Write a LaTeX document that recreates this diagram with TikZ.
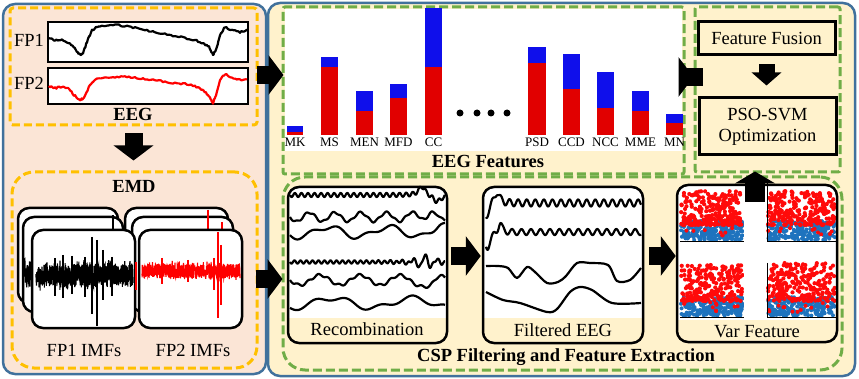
\documentclass[tikz,border=0pt]{standalone}
\usepackage{fontspec}
\setmainfont{Liberation Serif}
\usetikzlibrary{arrows.meta}
\definecolor{peach}{HTML}{FBE5D6}
\definecolor{cream}{HTML}{FFF2CC}
\definecolor{panelblue}{HTML}{41719C}
\definecolor{gold}{HTML}{FFC000}
\definecolor{leaf}{HTML}{70AD47}
\definecolor{barred}{RGB}{225,0,0}
\definecolor{barblue}{RGB}{15,15,235}
\definecolor{dotred}{RGB}{255,10,10}
\definecolor{dotblue}{RGB}{30,115,190}
\newcommand\scatterpanel[4]{%
  \foreach \i in {1,...,230}{%
    \pgfmathsetmacro\px{#1+(#2-#1)*rnd}%
    \pgfmathsetmacro\py{#4-2-19*rnd}%
    \fill[dotblue] (\px,\py) circle (2);}
  \foreach \i in {1,...,240}{%
    \pgfmathsetmacro\px{#1+(#2-#1)*rnd}%
    \pgfmathsetmacro\py{#4-17-(#4-#3-18)*(rnd)^1.4}%
    \fill[dotred] (\px,\py) circle (2.1);}
  \foreach \i in {1,...,12}{%
    \pgfmathsetmacro\px{#1+(#2-#1)*rnd}%
    \pgfmathsetmacro\py{#4-6-12*rnd}%
    \fill[dotred] (\px,\py) circle (2);}
}
\begin{document}
\begin{tikzpicture}[x=1pt,y=-1pt,
  panel/.style={draw=panelblue, line width=2.5pt, rounded corners=12pt, inner sep=0pt},
  golddash/.style={draw=gold, line width=3pt, dash pattern=on 8pt off 4pt, inner sep=0pt},
  leafdash/.style={draw=leaf, line width=3pt, dash pattern=on 9pt off 4pt, inner sep=0pt},
  sigbox/.style={draw=black, line width=2pt, inner sep=0pt},
  card/.style={draw=black, line width=2.5pt, rounded corners=11pt, inner sep=0pt},
  plainbox/.style={draw=black, line width=3pt, inner sep=0pt, font=\fontsize{18.5}{21}\selectfont, align=center},
  wave/.style={line width=2.2pt, line join=round},
  eegline/.style={line width=2.2pt, line join=round},
  bigarrow/.style={line width=18pt, -{Triangle[width=39pt,length=15pt]}},
  smallarrow/.style={line width=16pt, -{Triangle[width=29pt,length=13pt]}},
  lab/.style={font=\fontsize{18.5}{21}\selectfont, inner sep=0pt},
  blab/.style={font=\fontsize{18.5}{21}\selectfont\bfseries, inner sep=0pt},
  barlab/.style={font=\fontsize{13}{14}\selectfont, inner sep=0pt},
]
\pgfmathsetseed{7}
\useasboundingbox (0,0) rectangle (859,379);

% ---------- panels
\node[panel, fill=cream, minimum width=587pt, minimum height=373pt] (rightpanel) at (561.5,189.5) {};
\node[panel, fill=peach, minimum width=263pt, minimum height=370pt] (leftpanel) at (134.5,189) {};

% ---------- EEG box
\node[golddash, rounded corners=3pt, minimum width=247pt, minimum height=117pt] (eegbox) at (133.5,66.5) {};
\node[sigbox, fill=white, minimum width=200pt, minimum height=40pt] (fp1box) at (148,42) {};
\node[sigbox, fill=white, minimum width=200pt, minimum height=36pt] (fp2box) at (148,86) {};
\draw[eegline, black] (49,38) \foreach \xa/\ya/\xb/\yb in {49/38/55/40, 55/40/62/40, 62/40/70/43, 70/43/76/50, 76/50/80/55, 80/55/83/53, 83/53/87/42, 87/42/92/30, 92/30/97/27, 97/27/105/26, 105/26/115/25, 115/25/125/26, 125/26/135/28, 135/28/145/30, 145/30/155/32, 155/32/165/34, 165/34/175/36, 175/36/185/38, 185/38/195/40, 195/40/203/43, 203/43/209/47, 209/47/213/55, 213/55/216/50, 216/50/220/35, 220/35/225/27, 225/27/232/30, 232/30/240/32, 240/32/247/30}{
  \foreach \t in {0.2,0.4,0.6,0.8,1}{ -- ({\xa+(\xb-\xa)*\t},{\ya+(\yb-\ya)*\t+0.9*rand}) } };
\draw[eegline, red] (49,86) \foreach \xa/\ya/\xb/\yb in {49/86/55/88, 55/88/62/87, 62/87/68/88, 68/88/74/95, 74/95/80/100, 80/100/84/98, 84/98/90/85, 90/85/95/79, 95/79/105/78, 105/78/115/77, 115/77/125/76, 125/76/135/78, 135/78/145/79, 145/79/155/80, 155/80/165/82, 165/82/175/83, 175/83/185/84, 185/84/195/86, 195/86/200/88, 200/88/206/93, 206/93/210/98, 210/98/213/103, 213/103/216/95, 216/95/220/80, 220/80/225/74, 225/74/232/78, 232/78/240/80, 240/80/247/79}{
  \foreach \t in {0.2,0.4,0.6,0.8,1}{ -- ({\xa+(\xb-\xa)*\t},{\ya+(\yb-\ya)*\t+0.9*rand}) } };
\node[lab] (fp1lab) at (29,40) {FP1};
\node[lab] (fp2lab) at (29,83) {FP2};
\node[blab] (eeglab) at (133,114) {EEG};

% ---------- EMD box
\node[golddash, rounded corners=22pt, minimum width=245pt, minimum height=196pt] (emdbox) at (134.5,270) {};
\node[blab] (emdlab) at (134,186) {EMD};
\node[card, fill=white, minimum width=100pt, minimum height=95pt] (imfa1) at (68,255.5) {};
\node[card, fill=white, minimum width=100pt, minimum height=95pt] (imfa2) at (73,264.5) {};
\node[card, fill=white, minimum width=103pt, minimum height=95pt] (imfb1) at (176.5,255.5) {};
\node[card, fill=white, minimum width=101pt, minimum height=95pt] (imfb2) at (182.5,264.5) {};
\draw[black, line width=1.1pt] plot[domain=24:33, samples=60] (\x, {273 + rand*(10+6*rnd)});
\draw[black, line width=1.5pt] (113,215) -- (113,232);
\draw[red, line width=1.5pt] (208,210) -- (208,232);
\draw[red, line width=1.5pt] (222,222) -- (222,235);
\node[card, fill=white, minimum width=103pt, minimum height=98pt] (imfa3) at (83.5,279) {};
\node[card, fill=white, minimum width=103pt, minimum height=98pt] (imfb3) at (190.5,279) {};
\draw[black, line width=1.1pt] plot[domain=36:133, samples=800] (\x, {275 + rand*(9+9*rnd*rnd)});
\foreach \sx/\sa/\sb in {55/258/296, 63/255/298, 72/256/294, 85/257/297, 92/237/314, 97/240/326, 103/250/300, 112/257/296}
  \draw[black, line width=1.2pt] (\sx,\sa) -- (\sx,\sb);
\draw[red, line width=1.1pt] plot[domain=142:240, samples=800] (\x, {271 + rand*(6+5*rnd*rnd)});
\foreach \sx/\sa/\sb in {136/262/290, 162/258/284, 188/260/282, 214/258/290, 218/232/318, 221/245/305}
  \draw[red, line width=1.2pt] (\sx,\sa) -- (\sx,\sb);
\node[lab] (imf1lab) at (84,350) {FP1 IMFs};
\node[lab] (imf2lab) at (193,350) {FP2 IMFs};

% ---------- EEG features
\fill[white] (285,9) rectangle (682,151);
\node[leafdash, rounded corners=2pt, minimum width=401pt, minimum height=167pt] (featbox) at (483.5,90.5) {};
\foreach \xa/\xb/\rt/\bt/\nm in {287/303/132/126/MK, 321/338/67/57/MS, 356/373/111/91/MEN, 390/407/98/84/MFD, 425/442/67/8/CC, 528/546/63/47/PSD, 563/580/89/54/CCD, 597/614/108/72/NCC, 632/649/111/91/MME, 666/683/123/114/MN}{
  \fill[barred] (\xa,135) rectangle (\xb,\rt);
  \fill[barblue] (\xa,\rt) rectangle (\xb,\bt);
  \node[barlab] at ({(\xa+\xb)/2},142) {\nm};
}
\foreach \dx in {460,477,491,507} \fill[black] (\dx,113) circle (3.5);
\node[blab] (featlab) at (488,161) {EEG Features};

% ---------- fusion / PSO
\node[leafdash, rounded corners=2pt, minimum width=145pt, minimum height=165pt] (fusebox) at (767.5,89.5) {};
\node[plainbox, minimum width=137pt, minimum height=33pt] (fusion) at (766.5,38.5) {Feature Fusion};
\node[plainbox, minimum width=137pt, minimum height=57pt] (pso) at (767.5,126.5) {PSO-SVM\\Optimization};

% ---------- CSP
\node[leafdash, rounded corners=22pt, minimum width=559pt, minimum height=193pt] (cspbox) at (562.5,273.5) {};
\begin{scope}
  \clip[rounded corners=11pt] (288,187) rectangle (447,343);
  \fill[white] (288,187) rectangle (447,318);
\end{scope}
\begin{scope}
  \clip[rounded corners=11pt] (483,187) rectangle (643,343);
  \fill[white] (483,187) rectangle (643,318);
\end{scope}
\begin{scope}
  \clip[rounded corners=11pt] (677,185) rectangle (837,342);
  \fill[white] (677,185) rectangle (837,320);
\end{scope}
% recombination waves
\draw[wave] plot[domain=290:445, samples=320] (\x, {195 + 2*sin(55*(\x-290)) - 9/(1+((\x-422)/4)^2) + 7/(1+((\x-437)/5)^2)});
\draw[wave] plot[domain=290:445, samples=250] (\x, {217 + 4.5*sin(14*(\x-290)) + 1*sin(40*(\x-290)) - 6/(1+((\x-430)/5)^2) + 6/(1+((\x-440)/4)^2)});
\draw[wave] plot[domain=290:445, samples=200] (\x, {232 + 5*sin(6*(\x-290)+40) + 2.5*sin(13*(\x-290)) - 5/(1+((\x-440)/6)^2)});
\draw[wave] plot[domain=290:445, samples=320] (\x, {262 + 1.6*sin(60*(\x-290)) - 7*sin(30*(\x-290))/(1+((\x-425)/9)^2)});
\draw[wave] plot[domain=290:445, samples=250] (\x, {280 + 5*sin(9*(\x-290)) + 1.2*sin(35*(\x-290)) + 6/(1+((\x-430)/5)^2)});
\draw[wave] plot[domain=290:445, samples=200] (\x, {303 + 5*sin(4.5*(\x-290)+80) + 2.5*sin(11*(\x-290))});
% filtered waves
\draw[wave] plot[domain=486:641, samples=320] (\x, {203 + 3.5*sin(42*(\x-486)) + 15/(1+((\x-486)/3)^2) - 12/(1+((\x-497)/3)^2)});
\draw[wave] plot[domain=486:641, samples=320] (\x, {232 + 3*sin(38*(\x-486)) + 16/(1+((\x-487)/4)^2) - 10/(1+((\x-500)/2.5)^2)});
\draw[wave] plot[smooth, tension=0.5] coordinates {(486,266) (498,266) (508,268) (517,278) (527,267) (535,272) (547,283) (558,282) (566,276) (577,263) (590,263) (608,265) (617,281) (630,280) (641,268)};
\draw[wave] plot[smooth, tension=0.5] coordinates {(486,292) (503,300) (520,303) (547,312) (557,309) (570,292) (580,287) (592,290) (612,303) (641,303)};
% var feature scatter
\scatterpanel{681}{743}{190}{242}
\scatterpanel{768}{835}{190}{242}
\scatterpanel{681}{743}{264}{318}
\scatterpanel{768}{835}{262}{318}
\draw[line width=1pt] (680,242) -- (746,242);
\draw[line width=1pt] (767,183) -- (767,242) -- (836,242);
\draw[line width=1pt] (680,317) -- (746,317);
\draw[line width=1pt] (767,263) -- (767,317) -- (836,317);
\fill[white] (744,186) rectangle (765,320);
\node[card, minimum width=159pt, minimum height=156pt] (recomb) at (367.5,265) {};
\node[card, minimum width=160pt, minimum height=156pt] (filtered) at (563,265) {};
\node[card, minimum width=160pt, minimum height=157pt] (varfeat) at (757,263.5) {};
\node[lab] (recomblab) at (367,329) {Recombination};
\node[lab] (filtlab) at (563,330) {Filtered EEG};
\node[lab] (varlab) at (757,332) {Var Feature};
\node[blab] (csplab) at (566,357) {CSP Filtering and Feature Extraction};

% ---------- arrows
\coordinate (ya) at (0,75);
\coordinate (yb) at (0,279);
\coordinate (yc) at (0,77);
\coordinate (yd) at (0,256);
\coordinate (upstart) at (755,202);
\draw[bigarrow, shorten <=7pt, shorten >=10pt] (eegbox.south) -- (eegbox.south |- emdbox.north);
\draw[bigarrow, shorten <=-2pt, shorten >=-2pt] (eegbox.east |- ya) -- (featbox.west |- ya);
\draw[bigarrow, shorten <=-3pt, shorten >=-1pt] (emdbox.east |- yb) -- (cspbox.west |- yb);
\draw[bigarrow, shorten <=-17pt] (featbox.east |- yc) -- (fusebox.west |- yc);
\draw[bigarrow, shorten <=3pt, shorten >=1pt] (recomb.east |- yd) -- (filtered.west |- yd);
\draw[bigarrow, shorten <=5pt] (filtered.east |- yd) -- (varfeat.west |- yd);
\draw[smallarrow, shorten <=8pt, shorten >=11pt] (fusion.south) -- (fusion.south |- pso.north);
\draw[line width=20pt, -{Triangle[width=40pt,length=12pt]}, shorten >=15pt] (upstart) -- (upstart |- pso.south);
\end{tikzpicture}
\end{document}
